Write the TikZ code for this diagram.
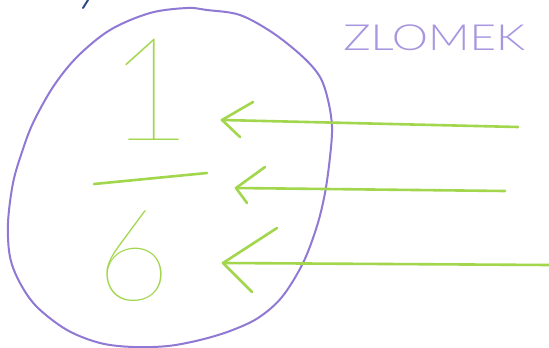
\documentclass[tikz,border=0pt]{standalone}
\usepackage{fontspec}
\newfontfamily\digfont{Lato}[UprightFont={* Thin}]
\newfontfamily\capfont{Lato}[UprightFont={* Light}]
\definecolor{pgreen}{HTML}{A2D64C}
\definecolor{ppurple}{HTML}{9079D4}
\definecolor{tpurple}{HTML}{A897E0}
\definecolor{pblue}{HTML}{2E4C86}
\tikzset{
  x=1pt,y=-1pt,
  crayon/.style={pgreen,line width=2.6pt,line cap=round,line join=round},
  ring/.style={ppurple,line width=2pt},
  digit/.style={pgreen,font=\digfont\fontsize{144}{144}\selectfont,inner sep=0pt},
}
\begin{document}
\begin{tikzpicture}
\useasboundingbox[fill=white] (0,0) rectangle (549,348);
% stray blue mark
\coordinate (b1) at (83,8); \coordinate (b2) at (88,0);
\draw[pblue,line width=2pt,line cap=round] (b1) -- (b2);
% egg-shaped ring
\draw[ring] plot[smooth cycle,tension=0.55] coordinates {
 (8,223) (13,183) (22,152) (33,123) (53,87) (77,57) (110,30) (150,13)
 (187,8) (207,10) (240,15) (273,33) (303,57) (320,77) (328,100) (332,127)
 (330,157) (325,193) (317,226) (303,263) (282,297) (258,318)
 (230,331) (200,340) (168,346) (133,347) (100,343) (67,330) (37,307)
 (20,283) (10,257)};
% title
\node[tpurple,font=\capfont\fontsize{36}{36}\selectfont,xscale=1.27,anchor=west,inner sep=0pt] (title) at (343,38) {ZLOMEK};
% fraction
\node[digit,anchor=south] (one) at (150,141) {1};
\coordinate (barL) at (94,184); \coordinate (barR) at (207,173);
\draw[crayon] (barL) -- (barR);
\node[digit,anchor=south,font=\digfont\fontsize{128}{128}\selectfont] (six) at (134,302) {6};
% arrows
\coordinate (t1) at (222,120); \coordinate (s1) at (518,127);
\coordinate (h1a) at (253,102); \coordinate (h1b) at (240,137);
\draw[crayon] (s1) -- (t1); \draw[crayon] (h1a) -- (t1) -- (h1b);
\coordinate (t2) at (236,188); \coordinate (s2) at (505,191);
\coordinate (h2a) at (265,167); \coordinate (h2b) at (247,203);
\draw[crayon] (s2) -- (t2); \draw[crayon] (h2a) -- (t2) -- (h2b);
\coordinate (t3) at (223,263); \coordinate (s3) at (549,265);
\coordinate (h3a) at (277,228); \coordinate (h3b) at (252,292);
\draw[crayon] (s3) -- (t3); \draw[crayon] (h3a) -- (t3) -- (h3b);
\end{tikzpicture}
\end{document}
